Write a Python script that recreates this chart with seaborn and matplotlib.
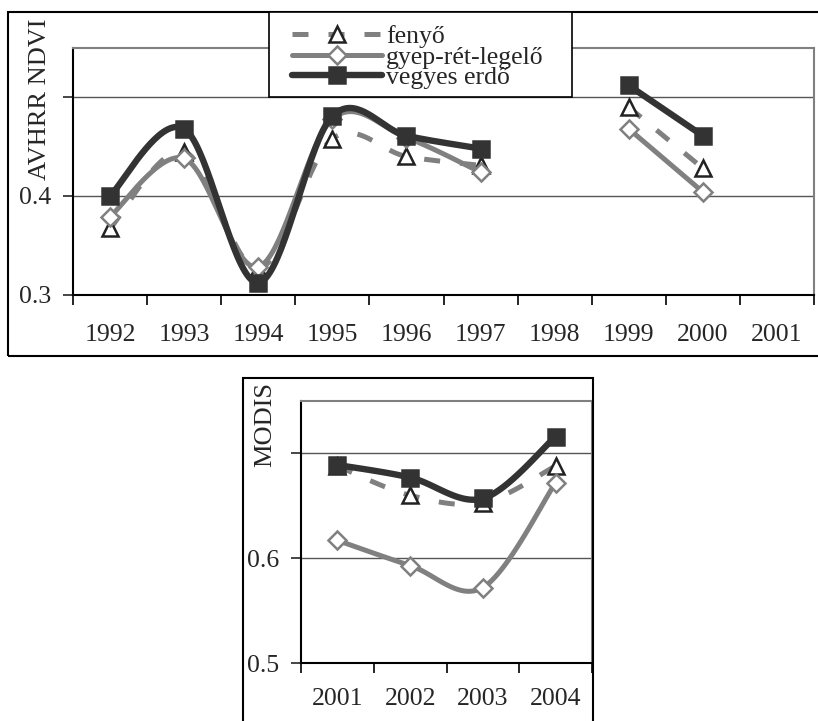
import numpy as np
import pandas as pd
import matplotlib
matplotlib.use("Agg")
import matplotlib.pyplot as plt
from matplotlib.lines import Line2D
from matplotlib.patches import Rectangle
import seaborn as sns

# ---------------- data ----------------
years_top = ['1992', '1993', '1994', '1995', '1996', '1997', '1998', '1999', '2000', '2001']
fenyo_top = [0.367, 0.445, 0.326, 0.458, 0.440, 0.431, np.nan, 0.490, 0.428, np.nan]
gyep_top = [0.379, 0.438, 0.328, 0.478, 0.459, 0.424, np.nan, 0.468, 0.404, np.nan]
vegyes_top = [0.400, 0.468, 0.312, 0.481, 0.461, 0.448, np.nan, 0.512, 0.461, np.nan]

years_bot = ['2001', '2002', '2003', '2004']
fenyo_bot = [0.688, 0.660, 0.653, 0.688]
gyep_bot = [0.617, 0.593, 0.572, 0.672]
vegyes_bot = [0.689, 0.677, 0.657, 0.716]

series_names = ['fenyő', 'gyep-rét-legelő', 'vegyes erdő']
yticks_top = [0.3, 0.4, 0.5]
ytick_labels_top = ['0.3', '0.4', '']
yticks_bot = [0.5, 0.6, 0.7]
ytick_labels_bot = ['0.5', '0.6', '']

# ---------------- style ----------------
sns.set_theme(style='white')
plt.rcParams['font.family'] = ['Liberation Serif', 'DejaVu Serif']
plt.rcParams['axes.unicode_minus'] = False

GRAY = '#808080'
DARK = '#333333'
FS = 18.5

W, H = 818, 721
fig = plt.figure(figsize=(W / 100, H / 100), dpi=100)


def fx(px):
    return px / W


def fy(py):
    return 1 - py / H


def smooth_runs(xs, ys, n=40):
    """Excel-like smoothed line (Catmull-Rom Bezier) per contiguous run."""
    xs = np.asarray(xs, float)
    ys = np.asarray(ys, float)
    runs, cur = [], []
    for x, y in zip(xs, ys):
        if np.isnan(y):
            if cur:
                runs.append(cur)
            cur = []
        else:
            cur.append((x, y))
    if cur:
        runs.append(cur)
    out = []
    for run in runs:
        P = np.array(run)
        if len(P) < 2:
            continue
        cx, cy = [], []
        for i in range(len(P) - 1):
            p0 = P[i - 1] if i > 0 else P[i]
            p1, p2 = P[i], P[i + 1]
            p3 = P[i + 2] if i + 2 < len(P) else P[i + 1]
            c1 = p1 + (p2 - p0) / 6
            c2 = p2 - (p3 - p1) / 6
            t = np.linspace(0, 1, n)[:, None]
            b = ((1 - t) ** 3) * p1 + 3 * ((1 - t) ** 2) * t * c1 + 3 * (1 - t) * t ** 2 * c2 + t ** 3 * p2
            cx.extend(b[:, 0]); cy.extend(b[:, 1])
        out.append((np.array(cx), np.array(cy)))
    return out


styles = {
    'fenyő': dict(color=GRAY, lw=3.6, ls=(0, (3.2, 4.0)), marker='^', mfc='white', mec='#222222', ms=11, z=3),
    'gyep-rét-legelő': dict(color=GRAY, lw=3.6, ls='-', marker='D', mfc='white', mec=GRAY, ms=9, z=4),
    'vegyes erdő': dict(color=DARK, lw=4.6, ls='-', marker='s', mfc=DARK, mec=DARK, ms=12, z=5),
}


def draw_panel(ax, cats, values, ylim, yticks, ylabels, xpad):
    xpos = np.arange(len(cats)) + 0.5
    for name, vals in zip(series_names, values):
        st = styles[name]
        for cx, cy in smooth_runs(xpos, vals):
            df = pd.DataFrame({'x': cx, 'y': cy})
            sns.lineplot(data=df, x='x', y='y', ax=ax, sort=False, estimator=None,
                         color=st['color'], linewidth=st['lw'], linestyle=st['ls'],
                         zorder=st['z'], legend=False)
        dfm = pd.DataFrame({'x': xpos, 'y': vals}).dropna()
        ax.plot(dfm['x'], dfm['y'], linestyle='none', marker=st['marker'],
                markerfacecolor=st['mfc'], markeredgecolor=st['mec'],
                markersize=st['ms'], markeredgewidth=1.8, zorder=st['z'] + 0.5)
    ax.set_xlim(0, len(cats))
    ax.set_ylim(*ylim)
    ax.set_xticks(np.arange(len(cats) + 1))
    ax.set_xticklabels([])
    ax.set_xticks(xpos, minor=True)
    ax.set_xticklabels(cats, minor=True)
    ax.tick_params(axis='x', which='major', direction='out', length=7, width=1.2, colors='black',
                   bottom=True)
    ax.tick_params(axis='x', which='minor', length=0, pad=xpad, labelsize=FS, bottom=True)
    ax.set_yticks(yticks)
    ax.set_yticklabels(ylabels)
    ax.tick_params(axis='y', direction='out', length=7, width=1.2, pad=9, labelsize=FS, left=True)
    ax.yaxis.grid(True, color='#555555', linewidth=1.0)
    ax.xaxis.grid(False)
    ax.set_axisbelow(True)
    for s in ['left', 'bottom']:
        ax.spines[s].set_color('black')
        ax.spines[s].set_linewidth(1.5)
    for s in ['top', 'right']:
        ax.spines[s].set_color(GRAY)
        ax.spines[s].set_linewidth(1.5)
    ax.set_xlabel('')
    ax.set_ylabel('')


# top panel
ax1 = fig.add_axes([fx(73), fy(294.5), fx(814) - fx(73), fy(48) - fy(294.5)])
draw_panel(ax1, years_top, [fenyo_top, gyep_top, vegyes_top], (0.3, 0.55),
           yticks_top, ytick_labels_top, xpad=21)

# bottom panel
ax2 = fig.add_axes([fx(301), fy(663), fx(592) - fx(301), fy(401) - fy(663)])
draw_panel(ax2, years_bot, [fenyo_bot, gyep_bot, vegyes_bot], (0.5, 0.75),
           yticks_bot, ytick_labels_bot, xpad=18)

# outer frames
fig.patches.append(Rectangle((fx(8), fy(356)), fx(840) - fx(8), fy(12) - fy(356),
                             transform=fig.transFigure, fill=False, edgecolor='black',
                             linewidth=1.5, zorder=0))
fig.patches.append(Rectangle((fx(243), fy(740)), fx(593) - fx(243), fy(378) - fy(740),
                             transform=fig.transFigure, fill=False, edgecolor='black',
                             linewidth=1.5, zorder=0))

# axis titles
fig.text(fx(40), fy(99), 'AVHRR NDVI', rotation=90, ha='center', va='center', fontsize=19)
fig.text(fx(265), fy(425), 'MODIS', rotation=90, ha='center', va='center', fontsize=19)

# legend box
fig.patches.append(Rectangle((fx(269), fy(97)), fx(572) - fx(269), fy(12) - fy(97),
                             transform=fig.transFigure, facecolor='white', edgecolor='black',
                             linewidth=1.2, zorder=9))
handles = []
for name in series_names:
    st = styles[name]
    handles.append(Line2D([], [], color=st['color'], linewidth=st['lw'], linestyle=st['ls'],
                          marker=st['marker'], markerfacecolor=st['mfc'],
                          markeredgecolor=st['mec'], markersize=st['ms'], markeredgewidth=1.8))
leg = fig.legend(handles, series_names, loc='upper left', bbox_to_anchor=(fx(292), fy(25)),
                 frameon=False, borderaxespad=0, borderpad=0, fontsize=FS,
                 handlelength=3.5, handletextpad=0.15, labelspacing=-0.09)
leg.set_zorder(10)

fig.savefig('out.png', dpi=100, facecolor='white')
